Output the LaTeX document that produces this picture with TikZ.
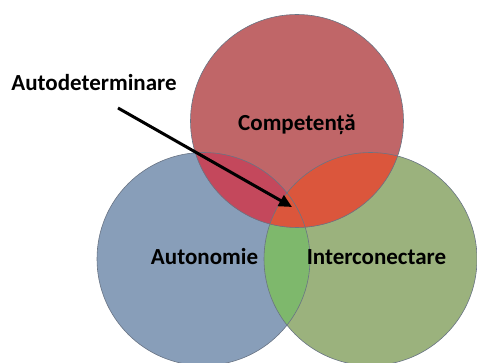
\documentclass[tikz,border=0pt]{standalone}
\usepackage{fontspec}
\setmainfont{Carlito}
\usetikzlibrary{arrows.meta}
\definecolor{blueA}{RGB}{136,158,185}
\definecolor{greenA}{RGB}{155,178,125}
\definecolor{redA}{RGB}{192,102,104}
\definecolor{bgA}{RGB}{126,184,108}
\definecolor{rbA}{RGB}{196,72,92}
\definecolor{rgA}{RGB}{219,86,60}
\definecolor{edgeA}{RGB}{105,116,132}
\begin{document}
\begin{tikzpicture}[x=1pt,y=-1pt,
  lbl/.style={font=\bfseries\fontsize{23}{27}\selectfont, text=black, inner sep=0pt, anchor=base},
  ring/.style={draw=edgeA, line width=0.6pt},
  pointer/.style={draw=black, line width=3pt, -{Triangle[length=13pt,width=12pt]}}]
\useasboundingbox (0,0) rectangle (477,363);
\coordinate (cR) at (297,121);
\coordinate (cB) at (203.5,259);
\coordinate (cG) at (370.5,259);
\fill[blueA] (cB) circle (106.5pt);
\fill[greenA] (cG) circle (106.5pt);
\fill[redA] (cR) circle (106.5pt);
\begin{scope}
  \clip (cB) circle (106.5pt);
  \fill[bgA] (cG) circle (106.5pt);
\end{scope}
\begin{scope}
  \clip (cR) circle (106.5pt);
  \fill[rbA] (cB) circle (106.5pt);
  \fill[rgA] (cG) circle (106.5pt);
\end{scope}
\draw[ring] (cB) circle (106.5pt);
\draw[ring] (cG) circle (106.5pt);
\draw[ring] (cR) circle (106.5pt);
\node[lbl] (auto) at (94,90.7) {Autodeterminare};
\node[lbl] (comp) at (297,131) {Competență};
\node[lbl] (auton) at (204.5,265) {Autonomie};
\node[lbl] (inter) at (376.5,265) {Interconectare};
\coordinate (aStart) at (118,108);
\coordinate (aTip) at (292,207);
\draw[pointer] (aStart) -- (aTip);
\end{tikzpicture}
\end{document}
